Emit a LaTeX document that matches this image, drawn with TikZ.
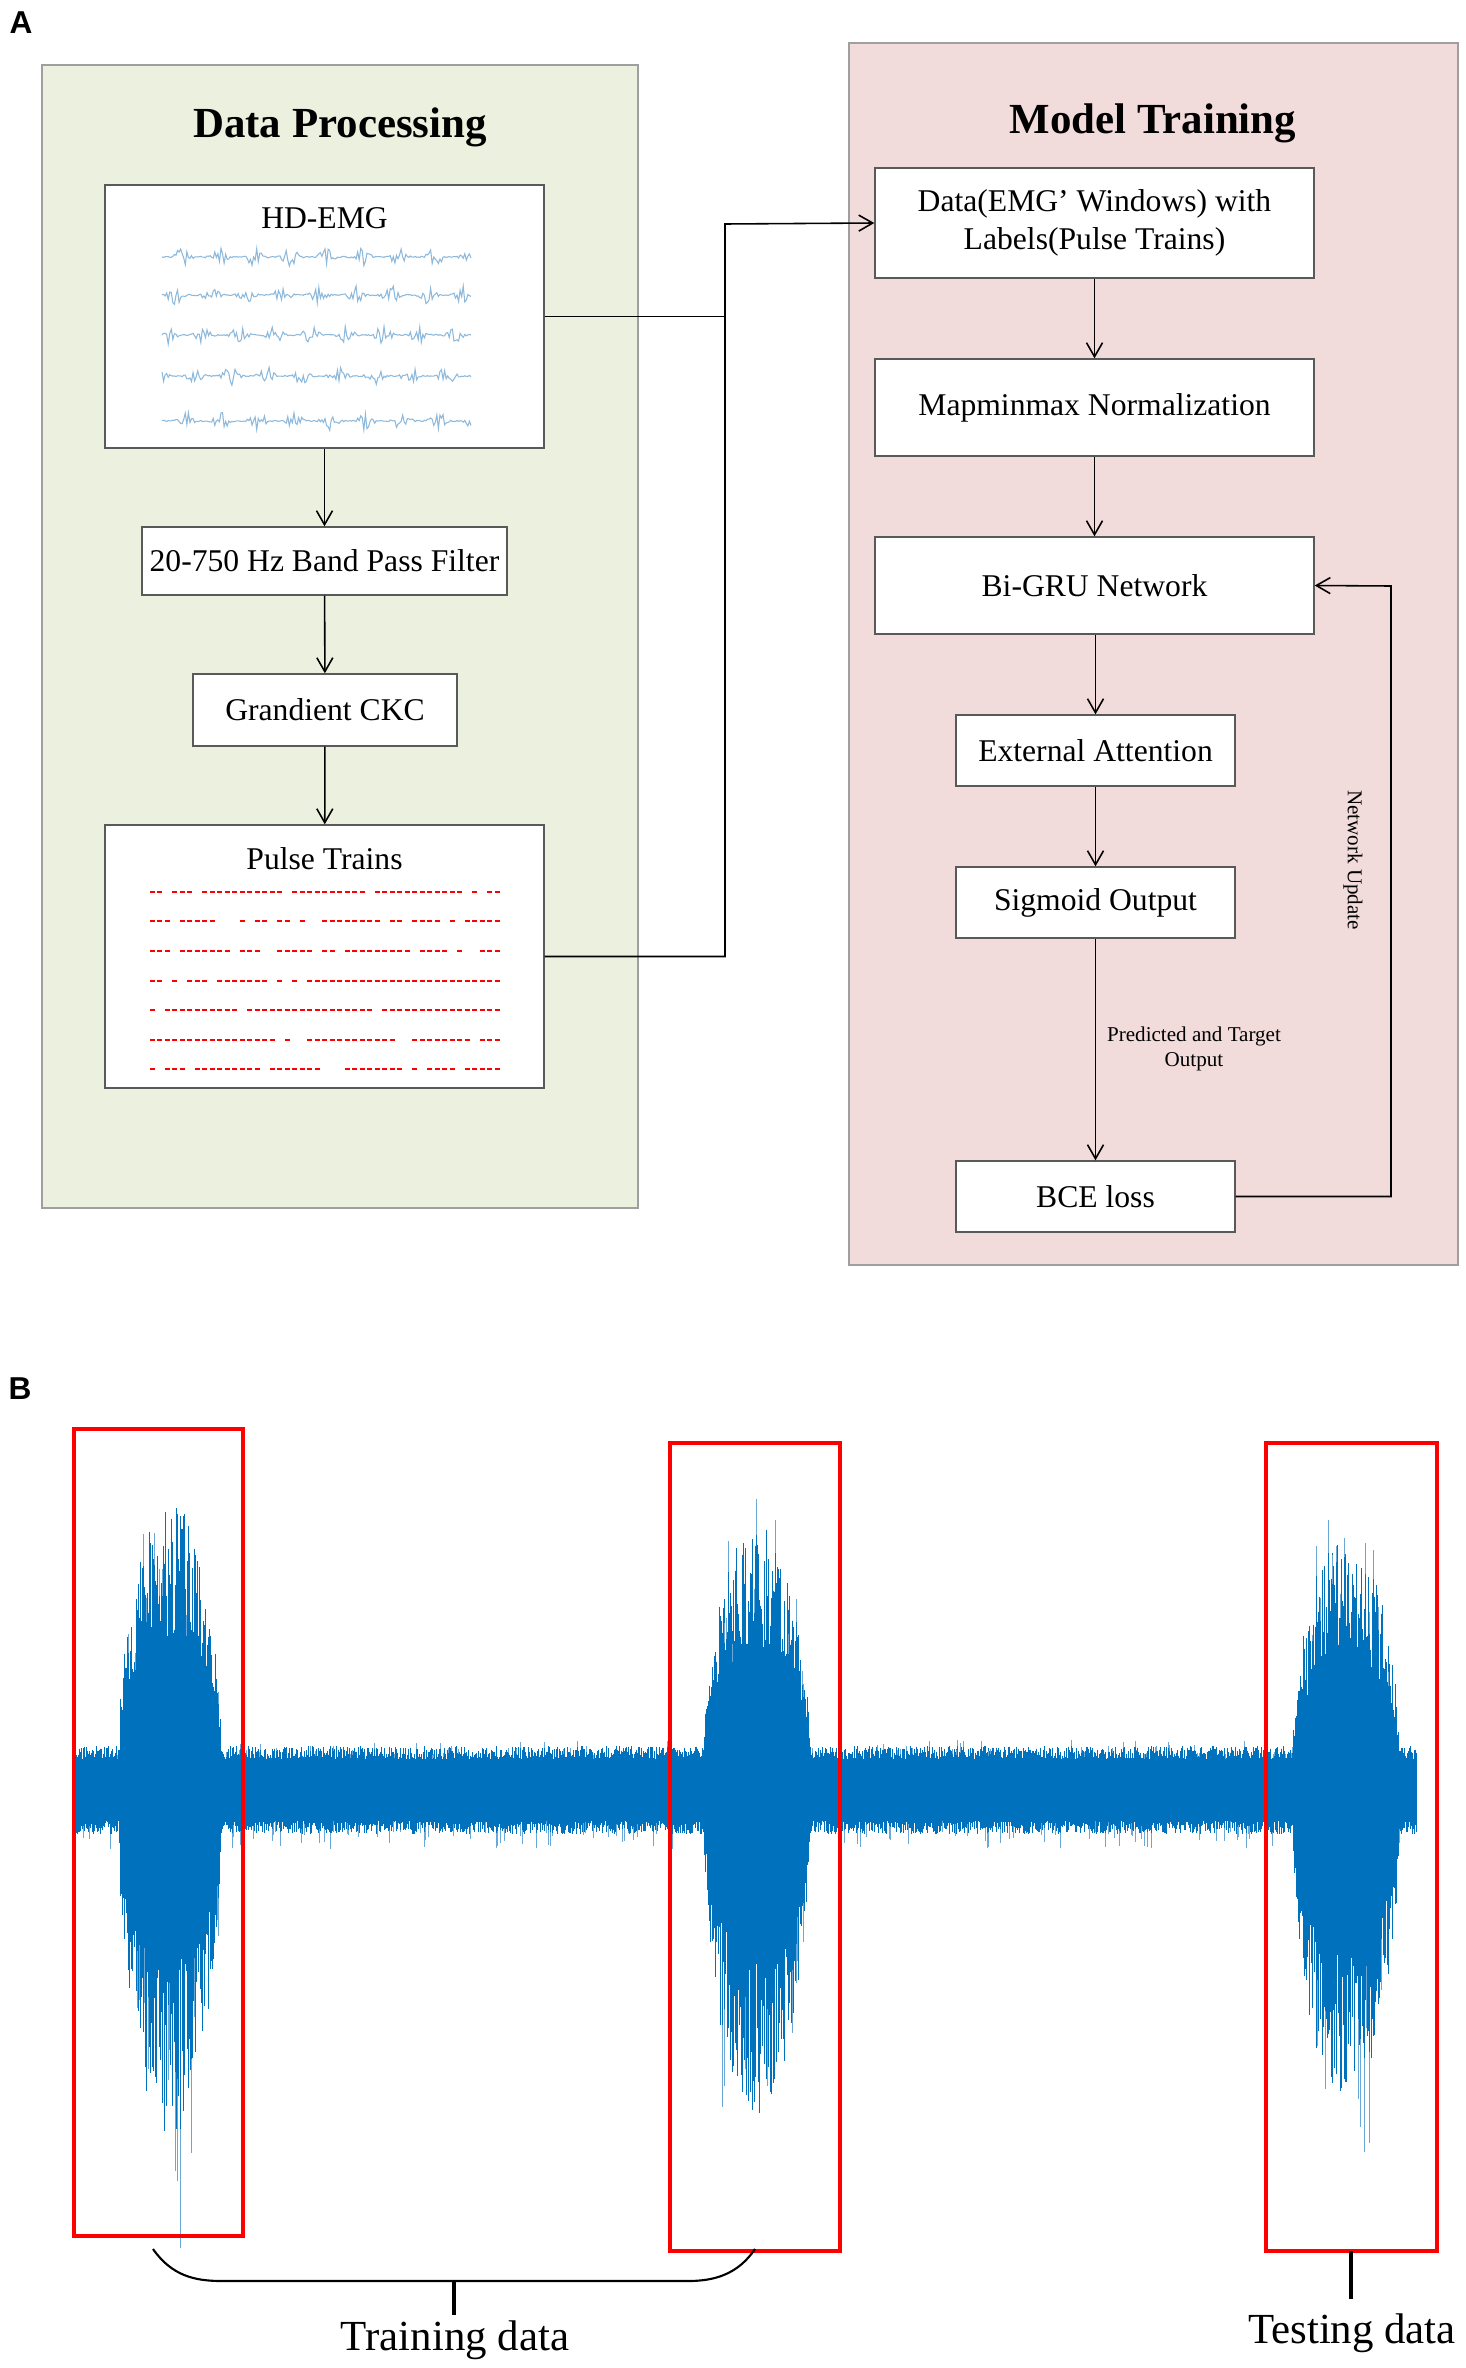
\documentclass[tikz,border=0pt]{standalone}
\usepackage{fontspec}
\setmainfont{Liberation Serif}
\newfontfamily\labelfont{Liberation Sans}
\usetikzlibrary{arrows.meta}
\definecolor{procgreen}{HTML}{EBF1DE}
\definecolor{trainpink}{HTML}{F2DCDB}
\definecolor{sigblue}{HTML}{0072BD}
\definecolor{siglight}{HTML}{6AA8D8}
\definecolor{emgblue}{HTML}{8DB9DC}

\begin{document}
\begin{tikzpicture}[x=0.1mm,y=-0.1mm,
  panel/.style={draw=gray!75, line width=0.5pt},
  stage/.style={draw=gray!70!black, fill=white, line width=0.4pt, inner sep=0pt,
    align=center, font=\fontsize{9}{11}\selectfont},
  title/.style={font=\bfseries\fontsize{12.2}{14}\selectfont, anchor=base},
  flow/.style={-{Straight Barb[length=1.4mm,width=1.6mm]}, line width=0.45pt},
  wire/.style={line width=0.45pt},
  note/.style={font=\fontsize{6}{7}\selectfont, align=center},
  tag/.style={font=\labelfont\bfseries\fontsize{9}{10}\selectfont},
  emgtrace/.style={emgblue, line width=0.3pt},
  pulsemark/.style={fill=red},
  sigline/.style={sigblue, line width=0.26pt},
  sigspike/.style={siglight, line width=0.2pt},
  window/.style={draw=red, line width=1.1pt},
  brace/.style={line width=0.6pt},
  bigtext/.style={font=\fontsize{12.2}{14}\selectfont, anchor=base},
  declare function={burst(\t,\a,\b)=sin(180*max(0,min(1,(\t-\a)/(\b-\a))))^0.55;}]
\useasboundingbox (0,0) rectangle (1465,2368);
\pgfmathsetseed{4321}

% panel A
\node[tag] (tagA) at (21,23) {A};
\draw[panel, fill=procgreen] (42,65) rectangle (638,1208);
\draw[panel, fill=trainpink] (849,43) rectangle (1458,1265);
\node[title] (proctitle) at (340,138) {Data Processing};
\node[title] (traintitle) at (1153,134) {Model Training};

% data processing
\node[stage, minimum width=43.9mm, minimum height=26.3mm] (hdemg) at (324.5,316.5) {};
\node[font=\fontsize{9}{11}\selectfont] (hdtitle) at (324.5,218) {HD-EMG};
\foreach \yy in {257,295,335,376,421}
  \draw[emgtrace] plot[domain=162:471,samples=200] (\x,{\yy+(0.6+9*abs(sin(5*\x+\yy))^4)*rand});
\node[stage, minimum width=36.5mm, minimum height=6.8mm] (filter) at (324.5,561) {20-750 Hz Band Pass Filter};
\node[stage, minimum width=26.4mm, minimum height=7.2mm] (ckc) at (325,710) {Grandient CKC};
\node[stage, minimum width=43.9mm, minimum height=26.3mm] (pulse) at (324.5,956.5) {};
\node[font=\fontsize{9}{11}\selectfont] (pulsetitle) at (324.5,859) {Pulse Trains};
\foreach \yy in {892,921,951,981,1010,1040,1069}
  \foreach \px in {152,159.5,...,503}{
    \pgfmathtruncatemacro\keep{rnd<0.84}
    \ifnum\keep=1 \fill[pulsemark] (\px-2.5,\yy-1.3) rectangle (\px+2.5,\yy+1.3);\fi
  }

% model training
\node[stage, minimum width=43.9mm, minimum height=11mm] (windows) at (1094.5,223) {Data(EMG’ Windows) with\\Labels(Pulse Trains)};
\node[stage, minimum width=43.9mm, minimum height=9.7mm] (mapmm) at (1094.5,407.5) {Mapminmax Normalization};
\node[stage, minimum width=43.9mm, minimum height=9.7mm] (bigru) at (1094.5,585.5) {Bi-GRU Network};
\node[stage, minimum width=27.9mm, minimum height=7.1mm] (extatt) at (1095.5,750.5) {External Attention};
\node[stage, minimum width=27.9mm, minimum height=7.1mm] (sigout) at (1095.5,902.5) {Sigmoid Output};
\node[stage, minimum width=27.9mm, minimum height=7.1mm] (bce) at (1095.5,1196.5) {BCE loss};
\node[note] (predlbl) at (1194,1049) {Predicted and Target\\Output};
\node[note, rotate=-90] (updlbl) at (1353,860) {Network Update};
\coordinate (bus) at (725,224);
\coordinate (loop) at (1391,586);

% connectors
\draw[flow] (hdemg) -- (filter);
\draw[flow] (filter) -- (ckc);
\draw[flow] (ckc) -- (pulse);
\draw[wire] (hdemg.east) -- (hdemg.east -| bus);
\draw[flow] (pulse.east) -| (bus) -- (windows.west);
\draw[flow] (windows) -- (mapmm);
\draw[flow] (mapmm) -- (bigru);
\draw[flow] (bigru.south -| extatt.north) -- (extatt);
\draw[flow] (extatt) -- (sigout);
\draw[flow] (sigout) -- (bce);
\draw[flow] (bce.east) -| (loop) -- (bigru.east);

% panel B
\node[tag] (tagB) at (20,1389) {B};
\foreach \x in {76,76.8,...,1417}{
  \pgfmathsetmacro\amp{250*burst(\x,119,221)+232*burst(\x,704,810)+222*burst(\x,1293,1399)}
  \pgfmathsetmacro\up{44*(0.7+0.3*rnd)+\amp*(0.45+0.55*rnd)}
  \pgfmathsetmacro\dn{44*(0.7+0.3*rnd)+1.25*\amp*(0.45+0.55*rnd)}
  \pgfmathsetmacro\upx{\up*(1+0.14*(rnd<0.08))}
  \pgfmathsetmacro\dnx{\dn*(1+0.35*(rnd<0.08))}
  \draw[sigspike] (\x,1790-\upx) -- (\x,1790+\dnx);
  \draw[sigline] (\x,1790-\up) -- (\x,1790+\dn);
}
% windows
\draw[window] (74,1429) rectangle (243,2236);
\draw[window] (670,1443) rectangle (840,2251);
\draw[window] (1266,1443) rectangle (1437,2251);
% labels
\coordinate (brL) at (153,2249);
\coordinate (brR) at (755,2249);
\coordinate (brM) at (454,2281);
\coordinate (tsM) at (1351,2251);
\draw[brace] (brL) .. controls (172,2276) and (195,2281) .. (222,2281) -- (688,2281) .. controls (715,2281) and (738,2274) .. (brR);
\draw[line width=1pt] (brM) -- ++(0,34);
\draw[line width=1pt] (tsM) -- ++(0,48);
\node[bigtext] (trainlbl) at (455,2350) {Training data};
\node[bigtext] (testlbl) at (1352,2343) {Testing data};
\end{tikzpicture}
\end{document}
